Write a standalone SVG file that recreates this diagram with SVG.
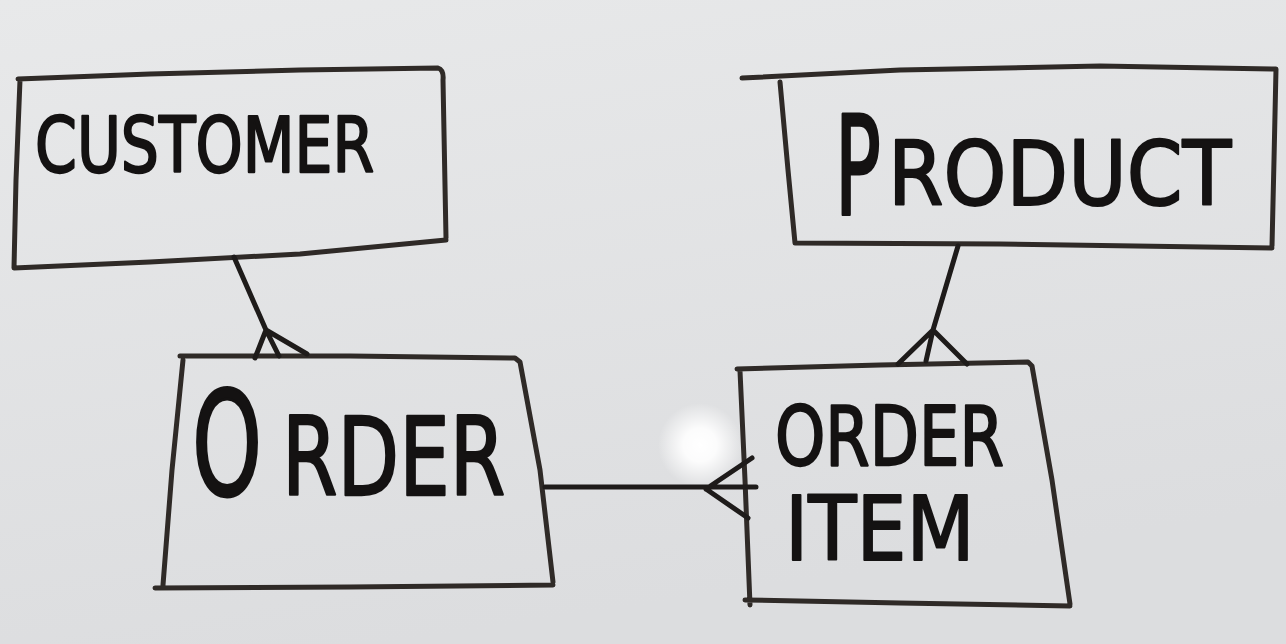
<svg xmlns="http://www.w3.org/2000/svg" width="1286" height="644" viewBox="0 0 1286 644">
<defs>
<linearGradient id="bg" x1="0" y1="0" x2="0.3" y2="1">
<stop offset="0" stop-color="#e8e9ea"/>
<stop offset="1" stop-color="#dcdddf"/>
</linearGradient>
<radialGradient id="glare" cx="0.5" cy="0.5" r="0.5">
<stop offset="0" stop-color="#ffffff" stop-opacity="1"/>
<stop offset="0.4" stop-color="#ffffff" stop-opacity="0.9"/>
<stop offset="1" stop-color="#ffffff" stop-opacity="0"/>
</radialGradient>
<style>
.box{fill:none;stroke:#2f2a27;stroke-width:5;stroke-linecap:round;stroke-linejoin:round}
.ink{fill:none;stroke:#1e1b1a;stroke-width:5;stroke-linecap:round;stroke-linejoin:round}
.lbl{font-family:"DejaVu Sans","Liberation Sans",sans-serif;fill:#141212;stroke:#141212;stroke-width:1.8;stroke-linejoin:round}
</style>
</defs>
<rect width="1286" height="644" fill="url(#bg)"/>
<circle cx="700" cy="445" r="42" fill="url(#glare)"/>

<g id="customer">
<path class="box" d="M18,79 L150,74 L300,70 L438,68 Q444,70 443,80 L446,238 M14,268 L150,262 L300,254 L446,240 M20,80 L16,180 L14,268"/>
<text class="lbl" transform="translate(35,172) scale(1,1.28)" font-size="60">CUSTOMER</text>
</g>

<g id="product">
<path class="box" d="M742,78 L900,70 L1100,66 L1276,69 L1274,160 L1272,246 M795,243 L1000,244 L1272,248 M780,82 L788,170 L795,243"/>
<text class="lbl" transform="translate(835,214) scale(1,1.8)" font-size="76">P</text>
<text class="lbl" transform="translate(888,205) scale(1,1.12)" font-size="80">RODUCT</text>
</g>

<g id="order">
<path class="box" d="M180,356 L350,356 L515,358 L520,362 L540,470 L553,582 M155,588 L350,587 L553,585 M183,360 L172,470 L163,585"/>
<text class="lbl" transform="translate(192,495) scale(1,1.62)" font-size="89">O</text>
<text class="lbl" transform="translate(282,495) scale(1,1.36)" font-size="80">RDER</text>
</g>

<g id="order-item">
<path class="box" d="M737,369 L880,365 L1028,362 L1032,366 L1052,480 L1070,604 M745,600 L900,603 L1070,606 M740,371 L745,480 L750,605"/>
<text class="lbl" transform="translate(775,465) scale(1,1.29)" font-size="64">ORDER</text>
<text class="lbl" transform="translate(785,560) scale(1,1.13)" font-size="79">ITEM</text>
</g>

<g id="connectors">
<path class="ink" d="M234,257 L266,330 M266,330 L255,358 M266,330 L279,356 M266,330 L307,354"/>
<path class="ink" d="M958,246 L933,330 M933,330 L898,364 M933,330 L926,361 M933,330 L967,364"/>
<path class="ink" d="M545,487 L756,487 M706,489 L752,458 M706,489 L748,518"/>
</g>
</svg>
